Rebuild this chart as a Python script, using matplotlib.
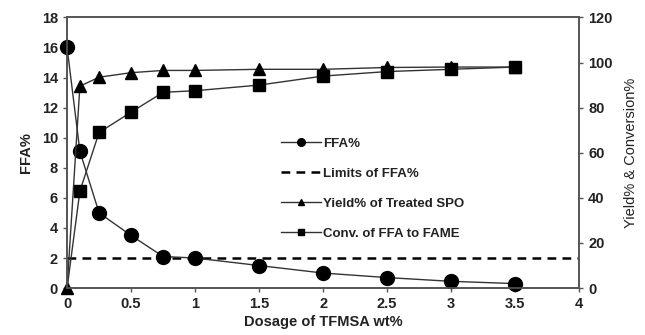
import matplotlib
matplotlib.use("Agg")
import matplotlib.pyplot as plt

plt.rcParams["font.family"] = ["Liberation Sans", "DejaVu Sans"]
plt.rcParams["font.weight"] = "bold"

dosage = [0, 0.1, 0.25, 0.5, 0.75, 1, 1.5, 2, 2.5, 3, 3.5]
ffa = [16.0, 9.1, 5.0, 3.5, 2.1, 2.0, 1.5, 1.0, 0.7, 0.45, 0.3]
yield_pct = [0, 89.5, 93.5, 95.5, 96.5, 96.5, 97, 97, 97.8, 98, 98]
conversion = [0, 43, 69, 78, 86.8, 87.5, 90, 94, 96, 97, 98]
ffa_limit = 2.0

fig = plt.figure(figsize=(6.45, 3.35), dpi=100)
ax = fig.add_axes([0.104, 0.140, 0.794, 0.808])
ax2 = ax.twinx()

grey = "#555555"
line_c = "#333333"

h1, = ax.plot(dosage, ffa, color=line_c, lw=1.0, marker="o", ms=10,
              mfc="black", mec="black", label="FFA%", zorder=3, clip_on=False)
h2 = ax.axhline(ffa_limit, color="black", lw=1.8, ls=(0, (3.5, 2.5)),
                label="Limits of FFA%")
h3, = ax2.plot(dosage, yield_pct, color=line_c, lw=1.0, marker="^", ms=9,
               mfc="black", mec="black", label="Yield% of Treated SPO",
               clip_on=False)
# first conversion point sits under the yield triangle at the origin
h4, = ax2.plot(dosage, conversion, color=line_c, lw=1.0, marker="s", ms=9,
               mfc="black", mec="black", label="Conv. of FFA to FAME",
               markevery=list(range(1, len(dosage))), clip_on=False)

ax.set_xlim(0, 4)
ax.set_ylim(0, 18)
ax2.set_ylim(0, 120)
ax.set_xticks([0, 0.5, 1, 1.5, 2, 2.5, 3, 3.5, 4])
ax.set_xticklabels(["0", "0.5", "1", "1.5", "2", "2.5", "3", "3.5", "4"])
ax.set_yticks(range(0, 19, 2))
ax2.set_yticks(range(0, 121, 20))

for a in (ax, ax2):
    for s in a.spines.values():
        s.set_color(grey)
        s.set_linewidth(1.2)
    a.tick_params(colors=grey, labelcolor="#222222", labelsize=10.5,
                  length=3, width=1)

ax.set_xlabel("Dosage of TFMSA wt%", fontsize=10.5, color="#222222",
              fontweight="bold", labelpad=3)
ax.set_ylabel("FFA%", fontsize=10.5, color="#222222", fontweight="bold",
              labelpad=6)
ax2.set_ylabel("Yield% & Conversion%", fontsize=10.5, color="#222222",
               fontweight="normal", labelpad=8)

leg = ax2.legend(handles=[h1, h2, h3, h4], loc="upper left",
                 bbox_to_anchor=(0.395, 0.60), frameon=False,
                 prop={"size": 9.5, "weight": "bold"}, markerscale=0.55,
                 labelspacing=1.35, handlelength=3.0, handletextpad=0.2)
for t in leg.get_texts():
    t.set_color("#222222")

fig.savefig("out.png", dpi=100)
